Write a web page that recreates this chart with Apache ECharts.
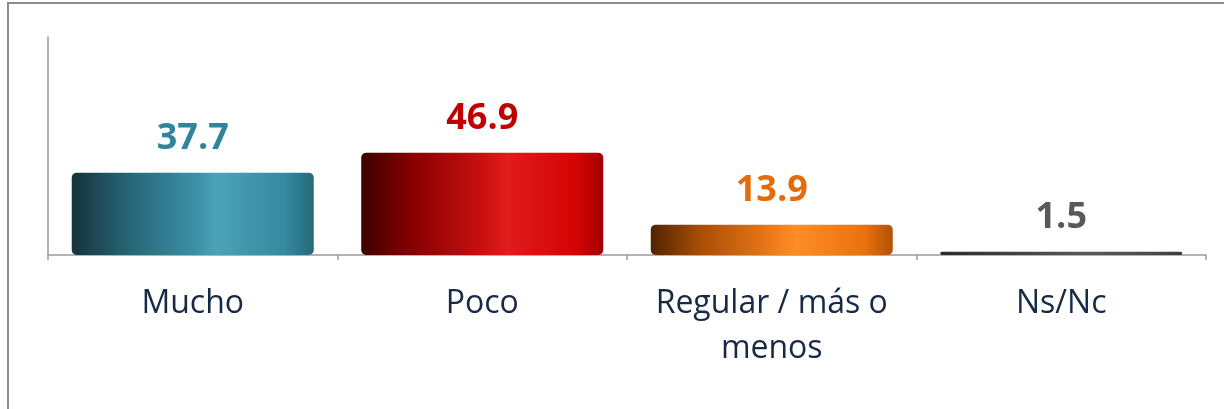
<!DOCTYPE html>
<html>
<head>
<meta charset="utf-8">
<script src="https://cdn.jsdelivr.net/npm/echarts@6/dist/echarts.min.js"></script>
<style>
html,body{margin:0;padding:0;background:#fff;}
#chart{width:1224px;height:409px;}
</style>
</head>
<body>
<div id="chart"></div>
<script>
const categories = ['Mucho', 'Poco', 'Regular / más o menos', 'Ns/Nc'];
const values = [37.7, 46.9, 13.9, 1.5];
const labelColors = ['#31849B', '#C00000', '#E36C09', '#595959'];
const barGradients = [
  ['#15323a', '#245f6e', '#3a8ea4', '#4ca2b7', '#3589a0', '#24697a'],
  ['#3e0000', '#850000', '#c81010', '#e01c1c', '#d40404', '#a50000'],
  ['#4f2400', '#a84c06', '#ec7a18', '#ff8d26', '#ea720c', '#b25206'],
  ['#2a2a2a', '#3a3a3a', '#505050', '#5a5a5a', '#4a4a4a', '#3a3a3a']
];
const stopPos = [0, 0.2, 0.5, 0.6, 0.88, 1];

function grad(cols) {
  return new echarts.graphic.LinearGradient(0, 0, 1, 0,
    cols.map((c, i) => ({ offset: stopPos[i], color: c })));
}

// greedy word wrap using canvas text measurement
const measureCtx = document.createElement('canvas').getContext('2d');
measureCtx.font = '32px "Open Sans"';
function wrap(text, maxW) {
  const words = text.split(' ');
  const lines = [];
  let cur = '';
  words.forEach(w => {
    const test = cur ? cur + ' ' + w : w;
    if (cur && measureCtx.measureText(test).width > maxW) {
      lines.push(cur);
      cur = w;
    } else {
      cur = test;
    }
  });
  if (cur) lines.push(cur);
  return lines.join('\n');
}

const chart = echarts.init(document.getElementById('chart'), null, { renderer: 'canvas' });
chart.setOption({
  animation: false,
  backgroundColor: '#ffffff',
  graphic: [{
    type: 'rect',
    shape: { x: 8, y: 3, width: 1400, height: 600 },
    style: { fill: 'none', stroke: '#8c8c8c', lineWidth: 2 },
    silent: true
  }],
  grid: { left: 48, right: 18, top: 37, bottom: 154 },
  xAxis: {
    type: 'category',
    data: categories,
    axisLine: { lineStyle: { color: '#9a9a9a', width: 1.5 } },
    axisTick: { show: true, length: 5, lineStyle: { color: '#9a9a9a', width: 1.5 } },
    axisLabel: {
      interval: 0,
      margin: 26,
      fontFamily: 'Open Sans',
      fontSize: 32,
      lineHeight: 45,
      color: '#172a45',
      formatter: v => wrap(v, 265)
    }
  },
  yAxis: {
    type: 'value',
    min: 0,
    max: 100,
    axisLine: { show: true, lineStyle: { color: '#9a9a9a', width: 1.5 } },
    axisTick: { show: false },
    axisLabel: { show: false },
    splitLine: { show: false }
  },
  series: [{
    type: 'bar',
    barCategoryGap: '16.4%',
    data: values.map((v, i) => ({
      value: v,
      itemStyle: {
        color: grad(barGradients[i]),
        borderRadius: 5
      },
      label: { color: labelColors[i] }
    })),
    label: {
      show: true,
      position: 'top',
      distance: 16,
      fontFamily: 'Open Sans',
      fontWeight: 'bold',
      fontSize: 36,
      formatter: p => p.value.toFixed(1)
    }
  }]
});
</script>
</body>
</html>
